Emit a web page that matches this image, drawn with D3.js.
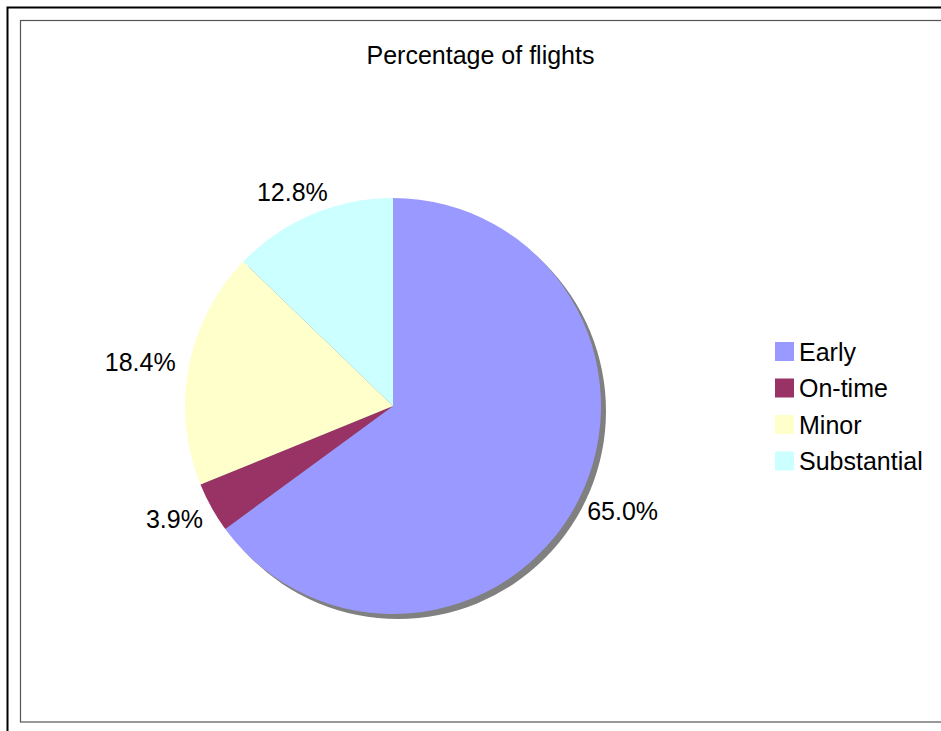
<!DOCTYPE html>
<html>
<head>
<meta charset="utf-8">
<script src="https://cdn.jsdelivr.net/npm/d3@7"></script>
<style>
  body { margin: 0; background: #fff; }
  text { font-family: "Liberation Sans", Arial, sans-serif; fill: #000; }
</style>
</head>
<body>
<div id="chart"></div>
<script>
let categories = ['Early', 'On-time', 'Minor', 'Substantial']
let values = [65.0, 3.9, 18.4, 12.8]
let colors = ['#9999FF', '#993366', '#FFFFCC', '#CCFFFF']
let title = 'Percentage of flights'

let width = 941, height = 731
let cx = 393, cy = 406, radius = 208

let svg = d3.select('#chart')
  .append('svg')
  .attr('width', width)
  .attr('height', height)

// outer and inner frames
svg.append('rect')
  .attr('x', 7.5).attr('y', 7.5)
  .attr('width', width).attr('height', height)
  .attr('fill', 'none').attr('stroke', '#000').attr('stroke-width', 2)
svg.append('rect')
  .attr('x', 20.5).attr('y', 20.5)
  .attr('width', width).attr('height', 701.5)
  .attr('fill', 'none').attr('stroke', '#555').attr('stroke-width', 1.2)

svg.append('text')
  .attr('x', 480.5).attr('y', 64)
  .attr('text-anchor', 'middle')
  .style('font-size', '25px')
  .text(title)

let pie = d3.pie().sort(null).value(function (d) { return d })
let arcs = pie(values)
let arc = d3.arc().innerRadius(0).outerRadius(radius)
let labelArc = d3.arc().innerRadius(222).outerRadius(222)

let g = svg.append('g').attr('transform', `translate(${cx},${cy})`)

// shadow
g.append('circle')
  .attr('cx', 5).attr('cy', 5).attr('r', radius)
  .attr('fill', '#808080')

g.selectAll('path.slice')
  .data(arcs)
  .enter()
  .append('path')
  .attr('class', 'slice')
  .attr('d', arc)
  .attr('fill', function (d, i) { return colors[i] })

// labels: box edge sits on the label circle, like excel
g.selectAll('text.lbl')
  .data(arcs)
  .enter()
  .append('text')
  .attr('class', 'lbl')
  .attr('text-anchor', 'middle')
  .attr('dy', '0.36em')
  .style('font-size', '25px')
  .text(function (d) { return d.data.toFixed(1) + '%' })
  .attr('transform', function (d) {
    let c = labelArc.centroid(d)
    let a = (d.startAngle + d.endAngle) / 2
    let w = this.getComputedTextLength()
    let x = c[0] + Math.sin(a) * w / 2
    let y = c[1] - Math.cos(a) * 10
    return `translate(${x},${y})`
  })

let legend = svg.append('g').attr('transform', 'translate(775,342)')
let rows = legend.selectAll('g')
  .data(categories)
  .enter()
  .append('g')
  .attr('transform', function (d, i) { return `translate(0,${i * 36.5})` })
rows.append('rect')
  .attr('width', 19).attr('height', 19)
  .attr('fill', function (d, i) { return colors[i] })
rows.append('text')
  .attr('x', 24).attr('y', 18.5)
  .style('font-size', '25px')
  .text(function (d) { return d })
</script>
</body>
</html>
